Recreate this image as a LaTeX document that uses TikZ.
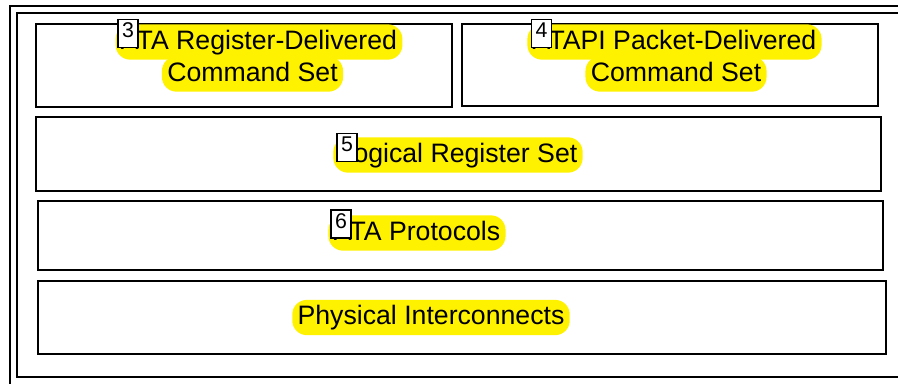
\documentclass[tikz,border=0pt]{standalone}
\usepackage{fontspec}
\setmainfont{Liberation Sans}
\usepackage{tikz}
\usetikzlibrary{positioning}

\tikzset{
    layer/.style={draw, rectangle, line width=1.5pt, inner sep=0pt},
    hilite/.style={fill=yellow, rounded corners=11pt, inner xsep=4pt, inner ysep=3.5pt,
        text height=15pt, text depth=4.5pt, font=\fontsize{20}{24}\selectfont},
    tag/.style={draw, rectangle, fill=white, line width=1.2pt, inner xsep=1.5pt, inner ysep=1.5pt,
        text height=12pt, text depth=6pt, minimum width=15pt, font=\fontsize{16}{18}\selectfont}
}

\begin{document}
\begin{tikzpicture}[x=0.75pt, y=-0.75pt]

    \useasboundingbox (0,0) rectangle (898,383);
    \clip (0,0) rectangle (898,383);

    % Frames
    \draw[line width=1.5pt] (10,390) -- (10,6) -- (905,6);
    \draw[line width=1.5pt] (905,13) -- (17,13) -- (17,377) -- (905,377);

    % Command sets
    \node[layer, minimum width=312pt, minimum height=62.25pt] (ata) at (244,65.5) {};
    \node[hilite] (ataA) at (259,42) {ATA Register-Delivered};
    \node[hilite] (ataB) at (252.5,74) {Command Set};
    \node[tag] (tagA) at (128,33.5) {3};

    \node[layer, minimum width=312pt, minimum height=61.5pt] (atapi) at (670,65) {};
    \node[hilite] (atapiA) at (674.5,42) {ATAPI Packet-Delivered};
    \node[hilite] (atapiB) at (676,74) {Command Set};
    \node[tag] (tagB) at (541.5,33.5) {4};

    % Register set
    \node[layer, minimum width=633.75pt, minimum height=55.5pt] (logreg) at (458.5,154) {};
    \node[hilite] (logregT) at (458,155) {Logical Register Set};
    \node[tag] (tagC) at (347,147.5) {5};

    % Protocols
    \node[layer, minimum width=633.75pt, minimum height=51.75pt] (proto) at (460.5,235.5) {};
    \node[hilite] (protoT) at (417,233) {ATA Protocols};
    \node[tag] (tagD) at (341,224) {6};

    % Physical
    \node[layer, minimum width=636pt, minimum height=54.75pt] (phys) at (462,317.5) {};
    \node[hilite] (physT) at (431,317.5) {Physical Interconnects};

\end{tikzpicture}
\end{document}
